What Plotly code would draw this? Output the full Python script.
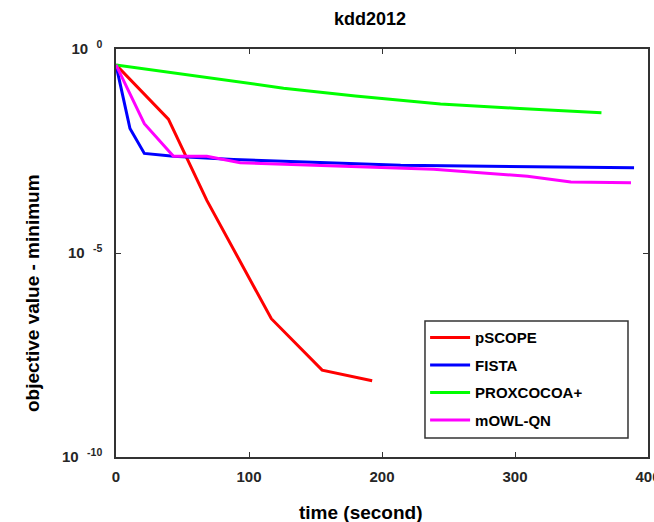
import plotly.graph_objects as go

# ---- data (time in seconds, objective value - minimum) ----
pscope_t = [0, 39.4, 68.3, 116.8, 155.0, 192.6]
pscope_v = [10**-0.39, 10**-1.72, 10**-3.71, 10**-6.61, 10**-7.87, 10**-8.13]

fista_t = [0, 10.5, 21.3, 43.2, 88.4, 214.0, 389.5]
fista_v = [10**-0.39, 10**-1.95, 10**-2.56, 10**-2.63, 10**-2.71, 10**-2.85, 10**-2.91]

prox_t = [0, 63, 126, 180, 244, 300, 365]
prox_v = [10**-0.39, 10**-0.68, 10**-0.96, 10**-1.15, 10**-1.35, 10**-1.45, 10**-1.56]

owl_t = [0, 21.3, 43.2, 68.3, 93.4, 214.0, 238.8, 309.4, 342.0, 387.2]
owl_v = [10**-0.39, 10**-1.83, 10**-2.63, 10**-2.63, 10**-2.79, 10**-2.93, 10**-2.95,
         10**-3.12, 10**-3.26, 10**-3.28]

series_names = ["pSCOPE", "FISTA", "PROXCOCOA+", "mOWL-QN"]
series_colors = ["#ff0000", "#0000ff", "#00ff00", "#ff00ff"]

x_ticks = [0, 100, 200, 300, 400]
y_tickvals = [1, 1e-5, 1e-10]
y_ticktext = ["10&nbsp;&nbsp;<sup>0</sup>", "10&nbsp;&nbsp;<sup>-5</sup>", "10&nbsp;&nbsp;<sup>-10</sup>"]

title_text = "kdd2012"
x_title = "time (second)"
y_title = "objective value - minimum"

FONT = "Arial, Liberation Sans, Helvetica, sans-serif"
TXT = "#262626"

fig = go.Figure()
for name, color, t, v in zip(series_names, series_colors,
                             [pscope_t, fista_t, prox_t, owl_t],
                             [pscope_v, fista_v, prox_v, owl_v]):
    fig.add_trace(go.Scatter(x=t, y=v, mode="lines", name=name, legendgroup=name,
                             line=dict(color=color, width=3)))

fig.update_layout(
    width=654, height=522,
    margin=dict(l=116, r=6, t=49, b=65, autoexpand=False),
    paper_bgcolor="white", plot_bgcolor="white",
    font=dict(family=FONT, color=TXT),
    title=dict(text=title_text, xref="paper", x=0.4774, xanchor="center",
               yref="container", y=0.9636, yanchor="middle",
               font=dict(size=18, weight="bold", color="#000000")),
    showlegend=True,
    legend=dict(x=0.581, y=0.333, xanchor="left", yanchor="top",
                bgcolor="rgba(0,0,0,0)", borderwidth=0,
                font=dict(size=15, weight="bold", color="#000000"),
                traceorder="grouped", tracegroupgap=5,
                itemwidth=40),
)

# legend frame
fig.add_shape(type="rect", xref="paper", yref="paper",
              x0=0.5808, x1=0.9624, y0=0.0466, y1=0.3333,
              line=dict(color="#333333", width=1.5), fillcolor="white", layer="below")

fig.update_xaxes(
    range=[0, 400], tickvals=x_ticks, ticktext=[str(v) for v in x_ticks],
    ticks="inside", ticklen=5, tickcolor="#333333",
    showline=True, linecolor="#333333", linewidth=1.5, mirror="ticks",
    showgrid=False, zeroline=False, automargin=False, ticklabeloverflow="allow",
    ticklabelstandoff=5,
    tickfont=dict(size=15, weight="bold", color=TXT),
)

fig.update_yaxes(
    type="log", range=[-10, 0], tickvals=y_tickvals, ticktext=y_ticktext,
    ticks="inside", ticklen=5, tickcolor="#333333",
    showline=True, linecolor="#333333", linewidth=1.5, mirror="ticks",
    showgrid=False, zeroline=False, ticklabelstandoff=9,
    automargin=False, ticklabeloverflow="allow",
    tickfont=dict(size=15, weight="bold", color=TXT),
)

fig.add_annotation(text=x_title, xref="paper", yref="paper", x=0.4596, y=-0.137,
                   xanchor="center", yanchor="middle", showarrow=False,
                   font=dict(size=19, weight="bold", color="#000000"))
fig.add_annotation(text=y_title, xref="paper", yref="paper", x=-0.156, y=0.402,
                   xanchor="center", yanchor="middle", showarrow=False, textangle=-90,
                   font=dict(size=19, weight="bold", color="#000000"))

fig.write_html("out.html", config={"displayModeBar": False},
               post_script="document.body.style.margin='0';")
